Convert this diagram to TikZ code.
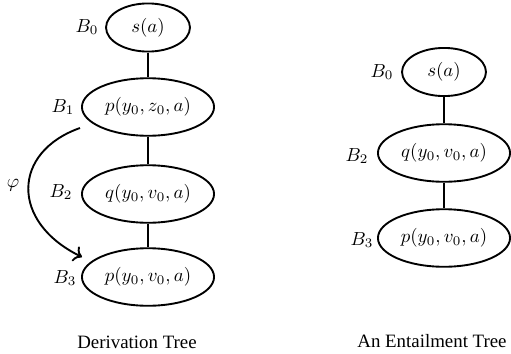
\documentclass[tikz,border=0pt]{standalone}
\usepackage{fontspec}
\setmainfont{Liberation Serif}
\usetikzlibrary{shapes.geometric,arrows.meta,calc}
\tikzset{
  bigell/.style={ellipse,draw,line width=1pt,inner sep=0pt,minimum width=70pt,minimum height=30.5pt},
  smallell/.style={ellipse,draw,line width=1pt,inner sep=0pt,minimum width=44.5pt,minimum height=25.5pt},
  edge/.style={line width=1pt},
  lbl/.style={inner sep=0pt},
}
\begin{document}
\begin{tikzpicture}[x=0.53pt,y=-0.53pt]
\useasboundingbox (0,0) rectangle (511,354);
% left tree
\node[smallell] (lb0) at (148,27.5) {$s(a)$};
\node[bigell] (lb1) at (148,107) {$p(y_0,z_0,a)$};
\node[bigell] (lb2) at (148,194) {$q(y_0,v_0,a)$};
\node[bigell] (lb3) at (148,277) {$p(y_0,v_0,a)$};
\draw[edge] (lb0) -- (lb1);
\draw[edge] (lb1) -- (lb2);
\draw[edge] (lb2) -- (lb3);
\node[lbl] (tl0) at (87,27) {$B_0$};
\node[lbl] (tl1) at (63,107) {$B_1$};
\node[lbl] (tl2) at (61,192) {$B_2$};
\node[lbl] (tl3) at (65,278) {$B_3$};
\draw[edge,-{To[scale=1.1]}] ($(lb1.center)+(-68,21)$) .. controls +(-68,24) and +(-72,-35) .. ($(lb3.center)+(-66,-20)$);
\node[lbl] (phi) at (13,185) {$\varphi$};
\node[lbl] (cap1) at (137,342) {Derivation Tree};
% right tree
\node[smallell] (rb0) at (444,72) {$s(a)$};
\node[bigell] (rb2) at (444,153) {$q(y_0,v_0,a)$};
\node[bigell] (rb3) at (444,238) {$p(y_0,v_0,a)$};
\draw[edge] (rb0) -- (rb2);
\draw[edge] (rb2) -- (rb3);
\node[lbl] (tr0) at (382,72) {$B_0$};
\node[lbl] (tr2) at (357,156) {$B_2$};
\node[lbl] (tr3) at (362,240) {$B_3$};
\node[lbl] (cap2) at (432,341) {An Entailment Tree};
\end{tikzpicture}
\end{document}
